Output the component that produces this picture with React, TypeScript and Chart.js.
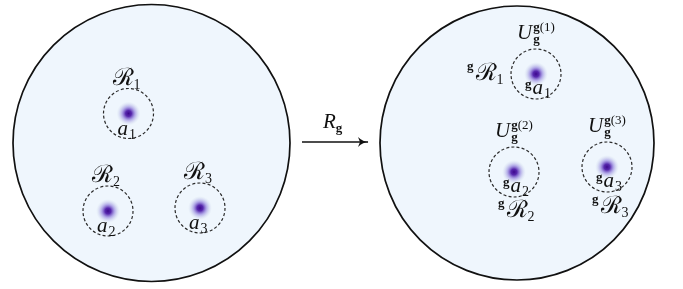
import { useEffect, useRef } from 'react';
import { Chart, registerables } from 'chart.js';

Chart.register(...registerables);

// ---- data (diagram coordinates, in chart units) ----
const worldX = [151.5, 517];
const worldY = [143, 143];
const worldR = [138.5, 137];

const regionIndex = ['1', '2', '3'];
const leftX = [128.5, 108, 200];
const leftY = [113.5, 211, 208];
const rightX = [536, 514, 607];
const rightY = [74, 172, 167];
const regionR = [25, 25, 25];

const arrowX = [302, 368];
const arrowY = [142, 142];

// label offsets for the transformed region names (left / below)
const gLabelOffset = [
  [-69, 6],
  [-16, 45],
  [-15, 46],
];

const INK = '#111111';
const SERIF = '"Liberation Serif", "DejaVu Serif", serif';
const SCRIPT = '"DejaVu Serif", "Liberation Serif", serif';

function unit(chart: any) {
  const x = chart.scales.x;
  return Math.abs(x.getPixelForValue(1) - x.getPixelForValue(0));
}

function drawParts(ctx: CanvasRenderingContext2D, x: number, y: number, parts: any[]) {
  let cx = x;
  for (const p of parts) {
    ctx.font = p.font;
    ctx.fillText(p.t, cx + (p.dx || 0), y + (p.dy || 0));
    if (!p.stay) cx += ctx.measureText(p.t).width + (p.dx || 0) + (p.gap || 0);
  }
  return cx;
}

const F_R = `24px ${SCRIPT}`;
const F_IT = `italic 21px ${SERIF}`;
const F_SUB = `14px ${SERIF}`;
const F_SUP = `13px ${SERIF}`;
const F_BG = `bold 13px ${SERIF}`;

const diagramPlugin = {
  id: 'diagram',
  afterDatasetsDraw(chart: any) {
    const ctx: CanvasRenderingContext2D = chart.ctx;
    const u = unit(chart);
    const regionMetas = [chart.getDatasetMeta(1), chart.getDatasetMeta(2)];
    ctx.save();
    regionMetas.forEach((meta: any, side: number) => {
      meta.data.forEach((pt: any, i: number) => {
        const r = regionR[i] * u;
        // glow
        const g = ctx.createRadialGradient(pt.x, pt.y, 0, pt.x, pt.y, 12 * u);
        g.addColorStop(0, 'rgba(60,8,140,1)');
        g.addColorStop(0.25, 'rgba(80,30,170,0.95)');
        g.addColorStop(0.55, 'rgba(130,110,215,0.55)');
        g.addColorStop(1, 'rgba(197,213,228,0)');
        ctx.fillStyle = g;
        ctx.beginPath();
        ctx.arc(pt.x, pt.y, 12 * u, 0, Math.PI * 2);
        ctx.fill();
        // dashed border
        ctx.setLineDash([3, 2.2]);
        ctx.lineWidth = 1.2;
        ctx.strokeStyle = '#2a2a2a';
        ctx.beginPath();
        ctx.arc(pt.x, pt.y, r, 0, Math.PI * 2);
        ctx.stroke();
        ctx.setLineDash([]);

        ctx.fillStyle = INK;
        ctx.textBaseline = 'alphabetic';
        ctx.textAlign = 'left';
        const n = regionIndex[i];
        if (side === 0) {
          drawParts(ctx, pt.x - 16 * u, pt.y - 29 * u, [
            { t: 'ℛ', font: F_R },
            { t: n, font: F_SUB, dy: 4, dx: 0 },
          ]);
          drawParts(ctx, pt.x - 11 * u, pt.y + 21 * u, [
            { t: 'a', font: F_IT },
            { t: n, font: F_SUB, dy: 4, dx: 1 },
          ]);
        } else {
          // U^{g(i)}_g
          const ux = drawParts(ctx, pt.x - 19 * u, pt.y - 35 * u, [{ t: 'U', font: F_IT, gap: 1 }]);
          drawParts(ctx, ux, pt.y - 35 * u, [{ t: 'g', font: F_BG, dy: 4 }]);
          drawParts(ctx, ux, pt.y - 35 * u, [
            { t: 'g', font: F_BG, dy: -8 },
            { t: '(' + n + ')', font: F_SUP, dy: -8 },
          ]);
          // inside: ^g a_i
          drawParts(ctx, pt.x - 11 * u, pt.y + 20 * u, [
            { t: 'g', font: F_BG, dy: -6 },
            { t: 'a', font: F_IT, dx: 1 },
            { t: n, font: F_SUB, dy: 4, dx: 1 },
          ]);
          // ^g R_i
          const off = gLabelOffset[i];
          drawParts(ctx, pt.x + off[0] * u, pt.y + off[1] * u, [
            { t: 'g', font: F_BG, dy: -10, gap: 2 },
            { t: 'ℛ', font: F_R },
            { t: n, font: F_SUB, dy: 4 },
          ]);
        }
      });
    });

    // arrow head + label
    const am = chart.getDatasetMeta(3);
    const p0 = am.data[0];
    const p1 = am.data[am.data.length - 1];
    ctx.fillStyle = INK;
    ctx.strokeStyle = INK;
    ctx.lineWidth = 1.3;
    ctx.beginPath();
    ctx.moveTo(p1.x + 1, p1.y);
    ctx.quadraticCurveTo(p1.x - 5, p1.y, p1.x - 10, p1.y - 5);
    ctx.lineTo(p1.x - 8, p1.y);
    ctx.lineTo(p1.x - 10, p1.y + 5);
    ctx.quadraticCurveTo(p1.x - 5, p1.y, p1.x + 1, p1.y);
    ctx.fill();
    const mid = (p0.x + p1.x) / 2;
    drawParts(ctx, mid - 12, p0.y - 14, [
      { t: 'R', font: F_IT },
      { t: 'g', font: F_BG, dy: 4, dx: 0 },
    ]);
    ctx.restore();
  },
};

export default function App() {
  const ref = useRef<HTMLCanvasElement | null>(null);
  useEffect(() => {
    if (!ref.current) return;
    const chart = new Chart(ref.current, {
      type: 'scatter',
      data: {
        datasets: [
          {
            data: worldX.map((x, i) => ({ x, y: worldY[i] })),
            pointRadius: (c: any) => worldR[c.dataIndex] * unit(c.chart),
            pointHoverRadius: (c: any) => worldR[c.dataIndex] * unit(c.chart),
            backgroundColor: '#eff6fd',
            borderColor: '#111111',
            borderWidth: 1.7,
            clip: false,
          } as any,
          {
            data: leftX.map((x, i) => ({ x, y: leftY[i] })),
            pointRadius: (c: any) => regionR[c.dataIndex] * unit(c.chart),
            backgroundColor: '#c6d6e5',
            borderWidth: 0,
            clip: false,
          } as any,
          {
            data: rightX.map((x, i) => ({ x, y: rightY[i] })),
            pointRadius: (c: any) => regionR[c.dataIndex] * unit(c.chart),
            backgroundColor: '#c6d6e5',
            borderWidth: 0,
            clip: false,
          } as any,
          {
            data: arrowX.map((x, i) => ({ x, y: arrowY[i] })),
            showLine: true,
            pointRadius: 0,
            borderColor: '#111111',
            borderWidth: 1.3,
            clip: false,
          } as any,
        ],
      },
      options: {
        animation: false,
        responsive: false,
        layout: { padding: 0 },
        plugins: { legend: { display: false }, tooltip: { enabled: false } },
        events: [],
        scales: {
          x: { type: 'linear', min: 0, max: 683, display: false },
          y: { type: 'linear', min: 0, max: 289, reverse: true, display: false },
        },
      },
      plugins: [diagramPlugin],
    });
    return () => chart.destroy();
  }, []);
  return (
    <div style={{ position: 'fixed', left: 0, top: 0, width: 683, height: 289, background: '#fff' }}>
      <canvas ref={ref} width={683} height={289} style={{ display: 'block' }} />
    </div>
  );
}
